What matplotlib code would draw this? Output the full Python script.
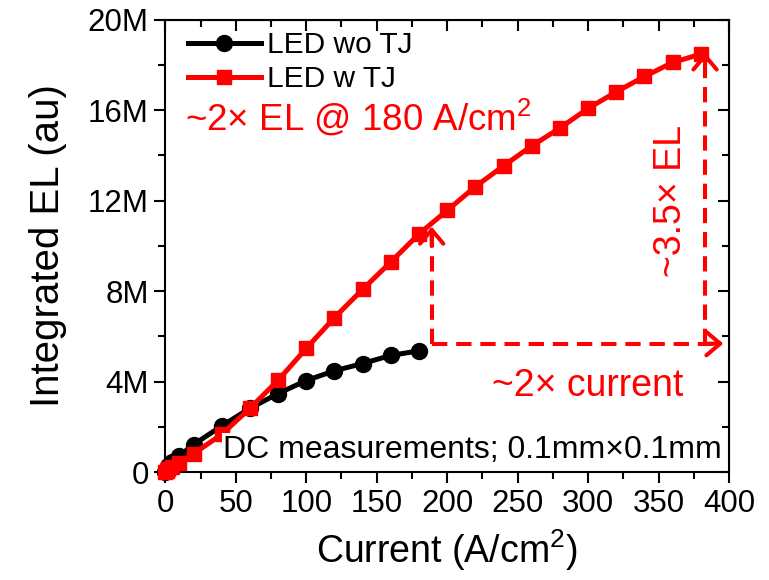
import matplotlib
matplotlib.use("Agg")
import matplotlib.pyplot as plt
from matplotlib.ticker import MultipleLocator, FuncFormatter

plt.rcParams['font.family'] = ['Liberation Sans', 'DejaVu Sans']
plt.rcParams['mathtext.fontset'] = 'custom'
plt.rcParams['mathtext.rm'] = 'Liberation Sans'
plt.rcParams['mathtext.it'] = 'Liberation Sans:italic'
plt.rcParams['mathtext.bf'] = 'Liberation Sans:bold'

# Data (Integrated EL in units of 1e6)
x_wo = [0, 1, 2, 5, 10, 20, 40, 60, 80, 100, 120, 140, 160, 180]
y_wo = [0.02, 0.12, 0.25, 0.45, 0.72, 1.22, 2.04, 2.82, 3.47, 4.05, 4.48, 4.80, 5.16, 5.36]

x_w = [0, 1, 2, 5, 10, 20, 40, 60, 80, 100, 120, 140, 160, 180, 200, 220, 240,
       260, 280, 300, 320, 340, 360, 380]
y_w = [0.02, 0.06, 0.12, 0.22, 0.40, 0.81, 1.67, 2.82, 4.06, 5.47, 6.83, 8.08, 9.29,
       10.53, 11.57, 12.62, 13.54, 14.42, 15.21, 16.08, 16.81, 17.49, 18.11, 18.48]

label_wo = "LED wo TJ"
label_w = "LED w TJ"
x_ticks = [0, 50, 100, 150, 200, 250, 300, 350, 400]
y_ticks = [0, 4, 8, 12, 16, 20]

RED = '#ff0000'

fig = plt.figure(figsize=(7.69, 5.80), dpi=100)
ax = fig.add_axes([0.215, 0.186, 0.733, 0.780])

ax.plot(x_wo, y_wo, color='black', lw=3.6, marker='o', ms=11.5, label=label_wo,
        clip_on=False, zorder=3)
ax.plot(x_w, y_w, color=RED, lw=3.6, marker='s', ms=10.5, label=label_w,
        clip_on=False, zorder=4)

ax.set_xlim(0, 400)
ax.set_ylim(0, 20)
ax.set_xticks(x_ticks)
ax.set_yticks(y_ticks)
ax.xaxis.set_minor_locator(MultipleLocator(25))
ax.yaxis.set_minor_locator(MultipleLocator(2))
ax.yaxis.set_major_formatter(FuncFormatter(lambda v, p: "0" if v == 0 else f"{int(v)}M"))

ax.tick_params(axis='both', which='major', labelsize=22.5, length=8, width=1.5,
               direction='out', pad=4)
ax.tick_params(axis='both', which='minor', length=5, width=1.5, direction='out')
for sp in ax.spines.values():
    sp.set_linewidth(1.5)

# mirrored inward ticks on top/right
axt = ax.secondary_xaxis('top')
axt.set_xticks(x_ticks)
axt.xaxis.set_minor_locator(MultipleLocator(25))
axt.tick_params(which='major', direction='in', length=8, width=1.5, labeltop=False)
axt.tick_params(which='minor', direction='in', length=5, width=1.5)
axt.set_xticklabels([])
axr = ax.secondary_yaxis('right')
axr.set_yticks(y_ticks)
axr.yaxis.set_minor_locator(MultipleLocator(2))
axr.tick_params(which='major', direction='in', length=8, width=1.5)
axr.tick_params(which='minor', direction='in', length=5, width=1.5)
axr.set_yticklabels([])

ax.set_xlabel("Current (A/cm$^2$)", fontsize=27, labelpad=6)
ax.set_ylabel("Integrated EL (au)", fontsize=29, labelpad=15)

leg = ax.legend(loc='upper left', frameon=False, fontsize=21.5, handlelength=2.45,
                handletextpad=0.2, borderaxespad=0.0, borderpad=0.0, labelspacing=0.2,
                bbox_to_anchor=(0.04, 0.975))

ax.text(0.035, 0.782, "~2× EL @ 180 A/cm$^2$", transform=ax.transAxes, color=RED,
        fontsize=26.5, va='center', ha='left')
ax.text(0.988, 0.05, "DC measurements; 0.1mm×0.1mm", transform=ax.transAxes,
        color='black', fontsize=23, va='center', ha='right',
        bbox=dict(facecolor='white', edgecolor='none', pad=1.0), zorder=6)
ax.text(0.897, 0.60, "~3.5× EL", transform=ax.transAxes, color=RED,
        fontsize=27, rotation=90, va='center', ha='center')
ax.text(0.75, 0.19, "~2× current", transform=ax.transAxes, color=RED,
        fontsize=27, va='center', ha='center')

# dashed guide lines with open arrowheads
dash = dict(color=RED, lw=2.9, ls=(0, (3.8, 2.2)), clip_on=False, zorder=5)
y_base = 5.68
ax.plot([189, 189], [y_base, 10.5], **dash)
ax.plot([189, 393], [y_base, y_base], **dash)
ax.plot([383, 383], [y_base, 18.2], **dash)
ap = dict(arrowstyle='->, head_length=0.5, head_width=0.42', color=RED, lw=2.9,
          mutation_scale=20, shrinkA=0, shrinkB=0)
ax.annotate("", xy=(189, 10.85), xytext=(189, 10.0), arrowprops=ap, annotation_clip=False)
ax.annotate("", xy=(396, y_base), xytext=(385, y_base), arrowprops=ap, annotation_clip=False)
ax.annotate("", xy=(383, 18.55), xytext=(383, 17.7), arrowprops=ap, annotation_clip=False)

fig.savefig("out.png", dpi=100)
